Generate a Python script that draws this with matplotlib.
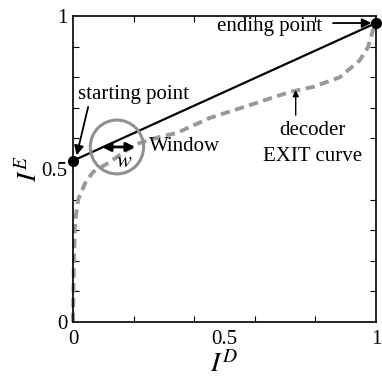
import numpy as np
import matplotlib.pyplot as plt
from matplotlib.patches import Circle

plt.rcParams['font.family'] = ['Liberation Serif', 'DejaVu Serif']
plt.rcParams['mathtext.fontset'] = 'stix'

# decoder EXIT curve
exit_x = [0.0, 0.003, 0.007, 0.017, 0.04, 0.066, 0.122, 0.178, 0.22, 0.287, 0.343,
          0.452, 0.584, 0.716, 0.792, 0.881, 0.947, 0.974, 0.99, 1.0]
exit_y = [0.0, 0.2, 0.33, 0.40, 0.454, 0.49, 0.523, 0.562, 0.585, 0.605, 0.618,
          0.667, 0.709, 0.752, 0.768, 0.80, 0.856, 0.899, 0.954, 0.977]

# straight line between starting and ending points
line_x = [0.0, 1.0]
line_y = [0.527, 0.977]

# window
win_center = (0.145, 0.572)
win_radius = 0.088
w_span = [0.095, 0.205]

fig = plt.figure(figsize=(3.82, 3.78), dpi=100)
ax = fig.add_axes([73 / 382, 56 / 378, 303 / 382, 306 / 378])

ax.plot(exit_x, exit_y, color='#999999', lw=2.8, ls=(0, (2.4, 1.4)), clip_on=False, zorder=2)
ax.plot(line_x, line_y, color='black', lw=1.6, zorder=3)
ax.plot(line_x, line_y, 'o', color='black', ms=7, clip_on=False, zorder=5)

ax.add_patch(Circle(win_center, win_radius, fill=False, ec='#909090', lw=2.2, zorder=4))
ax.annotate('', xy=(w_span[0], win_center[1]), xytext=(w_span[1], win_center[1]),
            arrowprops=dict(arrowstyle='<|-|>', color='black', lw=2.0,
                            mutation_scale=13, shrinkA=0, shrinkB=0), zorder=6)
ax.text(0.17, 0.52, r'$w$', fontsize=16, ha='center', va='center')
ax.text(0.25, 0.572, 'Window', fontsize=15, ha='left', va='center')

ax.text(0.2, 0.742, 'starting point', fontsize=15, ha='center', va='center')
ax.annotate('', xy=(0.012, 0.545), xytext=(0.05, 0.703),
            arrowprops=dict(arrowstyle='-|>', color='black', lw=1.3,
                            mutation_scale=14, shrinkA=0, shrinkB=0))
ax.text(0.65, 0.966, 'ending point', fontsize=15, ha='center', va='center')
ax.annotate('', xy=(0.985, 0.977), xytext=(0.858, 0.977),
            arrowprops=dict(arrowstyle='-|>', color='black', lw=1.3,
                            mutation_scale=14, shrinkA=0, shrinkB=0))
ax.annotate('', xy=(0.735, 0.758), xytext=(0.735, 0.676),
            arrowprops=dict(arrowstyle='-|>', color='black', lw=1.0,
                            mutation_scale=9, shrinkA=0, shrinkB=0))
ax.text(0.79, 0.627, 'decoder', fontsize=15, ha='center', va='center')
ax.text(0.79, 0.542, 'EXIT curve', fontsize=15, ha='center', va='center')

ax.set_xlim(0, 1)
ax.set_ylim(0, 1)
ax.set_xticks([0, 0.5, 1])
ax.set_xticklabels(['0', '0.5', '1'])
ax.set_yticks([0, 0.5, 1])
ax.set_yticklabels(['0', '0.5', '1'])
ax.set_xticks(np.arange(0.2, 1.0, 0.2), minor=True)
ax.set_yticks(np.arange(0.1, 1.0, 0.1), minor=True)
ax.tick_params(which='major', length=0, labelsize=15)
ax.tick_params(axis='x', which='major', pad=6)
ax.tick_params(axis='y', which='major', pad=4)
ax.tick_params(which='minor', direction='in', length=4, width=0.8,
               top=True, right=True)
for s in ax.spines.values():
    s.set_linewidth(1.2)

ax.set_xlabel(r'$I^D$', fontsize=20, labelpad=1)
ax.set_ylabel(r'$I^E$', fontsize=20, labelpad=-1)

fig.savefig('out.png', dpi=100)
